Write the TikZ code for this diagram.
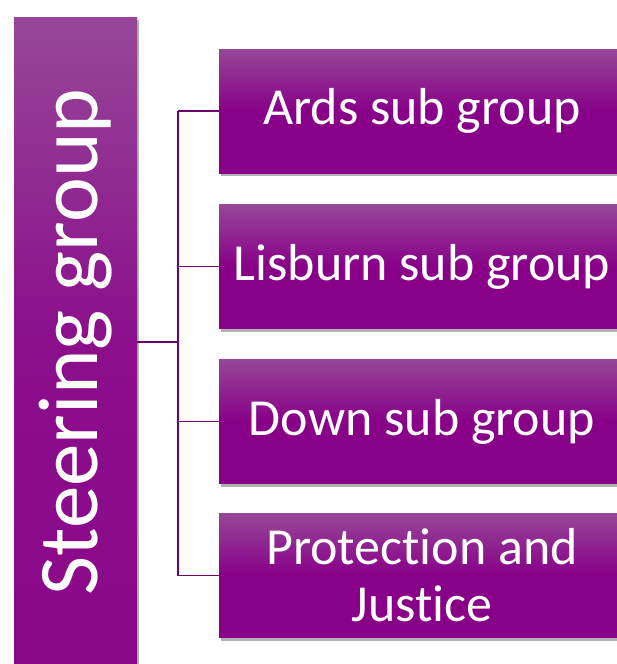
\documentclass[tikz,border=0pt]{standalone}
\usepackage{fontspec}
\setmainfont[Ligatures=NoCommon]{Carlito}
\usetikzlibrary{positioning,shadows}

\definecolor{plumTop}{HTML}{964798}
\definecolor{plumBase}{HTML}{880088}
\definecolor{plumDeep}{HTML}{8A088A}
\definecolor{plumLine}{HTML}{6E006F}

\begin{document}
\begin{tikzpicture}[x=1pt, y=-1pt,
  grp/.style={rectangle, draw=none, top color=plumTop, bottom color=plumBase,
              middle color=plumBase, text=white, inner sep=0pt, align=center,
              minimum width=406pt, minimum height=124pt,
              font=\fontsize{52}{57}\selectfont,
              drop shadow={shadow xshift=2pt, shadow yshift=-3pt, opacity=0.3, fill=black}},
  steer/.style={grp, top color=plumTop, bottom color=plumDeep, middle color=plumBase!80!plumTop,
              minimum width=123pt, minimum height=650pt,
              font=\fontsize{85}{90}\selectfont},
  link/.style={draw=plumLine, line width=1.8pt}
]
\useasboundingbox (0,0) rectangle (617,664);
\clip (0,0) rectangle (617,664);

\coordinate (hub) at (178,342);

\node[steer] (steering) at (75.5,342) {\rotatebox{90}{Steering group}};
\node[grp] (ards)    at (422,111)   {Ards sub group};
\node[grp] (lisburn) at (422,266.5) {Lisburn sub group};
\node[grp] (down)    at (422,421.5) {Down sub group};
\node[grp] (pj)      at (422,575.5) {Protect\kern0pt ion and\\Justice};

\draw[link] (steering.east) -- (hub);
\draw[link] (hub |- ards.west) -- (hub |- pj.west);
\foreach \g in {ards,lisburn,down,pj}
  \draw[link] (hub |- \g.west) -- (\g.west);
\end{tikzpicture}
\end{document}
